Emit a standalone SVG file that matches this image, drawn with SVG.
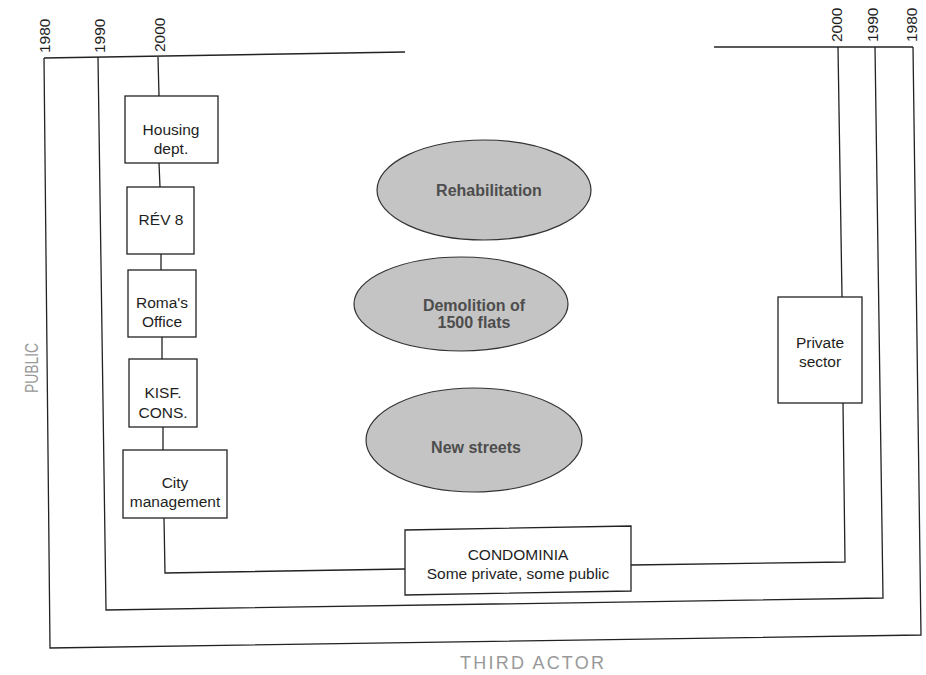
<svg xmlns="http://www.w3.org/2000/svg" width="926" height="675" viewBox="0 0 926 675">
  <style>
    .ln { fill: none; stroke: #222; stroke-width: 1.3; }
    .box { fill: #fff; stroke: #222; stroke-width: 1.3; }
    .oval { fill: #c4c4c4; stroke: #333; stroke-width: 1.2; }
    .t { font-family: "Liberation Sans", Arial, sans-serif; font-size: 15.5px; fill: #1e1e1e; text-anchor: middle; }
    .yr { font-family: "Liberation Sans", Arial, sans-serif; font-size: 15.5px; fill: #1e1e1e; }
    .ot { font-family: "Liberation Sans", Arial, sans-serif; font-size: 16px; font-weight: bold; fill: #4d4d4d; text-anchor: middle; }
    .lab { font-family: "Liberation Sans", Arial, sans-serif; font-size: 18px; fill: #999; }
  </style>

  <rect width="926" height="675" fill="#fff"/>

  <!-- timeline brackets: 1980 (outer), 1990, 2000 -->
  <g id="timelines">
    <path class="ln" d="M44,58 L405,52"/>
    <path class="ln" d="M714,47 L913,47"/>
    <path class="ln" d="M44,58 L50,648 L921,635 L913,47"/>
    <path class="ln" d="M98,57 L106,610 L883,598 L875,47"/>
    <path class="ln" d="M158,57 L159,96"/>
    <path class="ln" d="M838,47 L842,297"/>
  </g>

  <!-- year labels -->
  <g id="years">
    <text class="yr" transform="translate(50,53) rotate(-90)">1980</text>
    <text class="yr" transform="translate(105,53) rotate(-90)">1990</text>
    <text class="yr" transform="translate(165,52) rotate(-90)">2000</text>
    <text class="yr" transform="translate(842,42) rotate(-90)">2000</text>
    <text class="yr" transform="translate(878,42) rotate(-90)">1990</text>
    <text class="yr" transform="translate(917,42) rotate(-90)">1980</text>
  </g>

  <!-- axis labels -->
  <text class="lab" transform="translate(38,393) rotate(-90)" textLength="50" lengthAdjust="spacingAndGlyphs">PUBLIC</text>
  <text class="lab" x="460" y="669" font-size="17" textLength="144" lengthAdjust="spacing">THIRD ACTOR</text>

  <!-- connectors -->
  <g id="connectors">
    <path class="ln" d="M159,163 L160,187"/>
    <path class="ln" d="M161,254 L161,270"/>
    <path class="ln" d="M162,337 L162,359"/>
    <path class="ln" d="M163,427 L163,450"/>
    <path class="ln" d="M164,518 L165,573 L405,569"/>
    <path class="ln" d="M631,565 L845,562 L843,403"/>
  </g>

  <!-- public actors -->
  <g id="housing-dept">
    <rect class="box" x="125" y="96" width="93" height="67"/>
    <text class="t" x="171" y="135">Housing</text>
    <text class="t" x="171" y="154">dept.</text>
  </g>
  <g id="rev8">
    <rect class="box" x="127" y="187" width="67" height="67"/>
    <text class="t" x="161" y="225">RÉV 8</text>
  </g>
  <g id="romas-office">
    <rect class="box" x="128" y="270" width="68" height="67"/>
    <text class="t" x="162" y="308">Roma's</text>
    <text class="t" x="162" y="327">Office</text>
  </g>
  <g id="kisf-cons">
    <rect class="box" x="129" y="359" width="68" height="68"/>
    <text class="t" x="163" y="398">KISF.</text>
    <text class="t" x="163" y="418">CONS.</text>
  </g>
  <g id="city-management">
    <rect class="box" x="123" y="450" width="104" height="68"/>
    <text class="t" x="175" y="488">City</text>
    <text class="t" x="175" y="507">management</text>
  </g>

  <!-- third actor -->
  <g id="condominia">
    <polygon class="box" points="405,530 631,526 631,591 405,595"/>
    <text class="t" x="518" y="560">CONDOMINIA</text>
    <text class="t" x="518" y="579">Some private, some public</text>
  </g>

  <!-- private actor -->
  <g id="private-sector">
    <rect class="box" x="778" y="297" width="84" height="106"/>
    <text class="t" x="820" y="348">Private</text>
    <text class="t" x="820" y="367">sector</text>
  </g>

  <!-- interventions -->
  <g id="rehabilitation">
    <ellipse class="oval" cx="484" cy="190" rx="107" ry="50"/>
    <text class="ot" x="489" y="196">Rehabilitation</text>
  </g>
  <g id="demolition">
    <ellipse class="oval" cx="461" cy="304" rx="107" ry="47"/>
    <text class="ot" x="474" y="311">Demolition of</text>
    <text class="ot" x="474" y="328">1500 flats</text>
  </g>
  <g id="new-streets">
    <ellipse class="oval" cx="474" cy="440" rx="108" ry="52"/>
    <text class="ot" x="476" y="453">New streets</text>
  </g>
</svg>
